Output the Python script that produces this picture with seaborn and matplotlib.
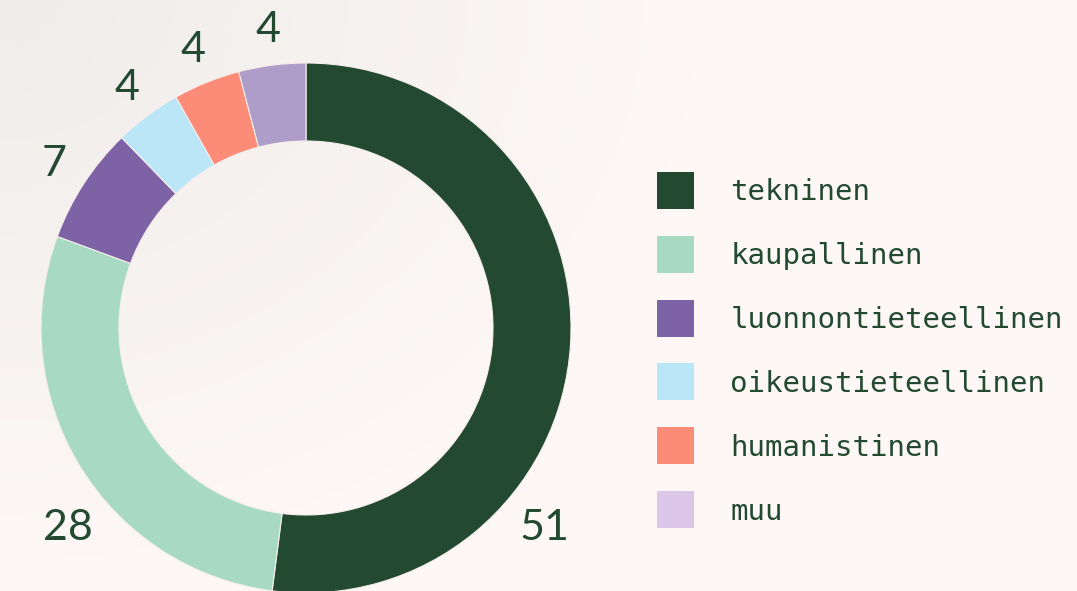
import numpy as np
import matplotlib
matplotlib.use("Agg")
import matplotlib.pyplot as plt
import seaborn as sns
from matplotlib.patches import Patch

# data
categories = ["tekninen", "kaupallinen", "luonnontieteellinen",
              "oikeustieteellinen", "humanistinen", "muu"]
values = [51, 28, 7, 4, 4, 4]
slice_colors = ["#234a31", "#a8d9c3", "#7d62a6", "#bae6f8", "#fc8c78", "#ae9cc9"]
legend_colors = ["#234a31", "#a8d9c3", "#7d62a6", "#bae6f8", "#fc8c78", "#dbc6e8"]

text_color = "#234a31"

sns.set_theme(style="white")
plt.rcParams['font.family'] = ['Lato', 'DejaVu Sans']

fig = plt.figure(figsize=(10.77, 5.91), dpi=100)
W, H = 1077, 591

# soft background gradient (grey in top-left, warm white elsewhere)
bg = fig.add_axes([0, 0, 1, 1])
yy, xx = np.mgrid[0:H, 0:W]
d = np.sqrt((xx / 700.0) ** 2 + (yy / 560.0) ** 2)
t = np.clip(d, 0, 1)[..., None]
c0 = np.array([0xef, 0xec, 0xea]) / 255
c1 = np.array([0xfd, 0xf8, 0xf5]) / 255
img = c0 * (1 - t) + c1 * t
bg.imshow(img, aspect="auto", extent=[0, 1, 0, 1])
bg.axis("off")

# donut
cx, cy, R = 306, 328, 265
ax = fig.add_axes([(cx - R) / W, (H - cy - R) / H, 2 * R / W, 2 * R / H])
ax.set_facecolor("none")
wedges, _ = ax.pie(values, colors=slice_colors, startangle=90, counterclock=False,
                   radius=1, wedgeprops=dict(width=78 / R, edgecolor="#f6efec", linewidth=0.8))
ax.set_xlim(-1, 1)
ax.set_ylim(-1, 1)
ax.set_aspect("equal")
ax.axis("off")

# value labels: small slices at their mid angle, big ones pushed low
for i, (w, v) in enumerate(zip(wedges, values)):
    mid = np.deg2rad((w.theta1 + w.theta2) / 2)
    r = 300 / R
    if v >= 20:
        mid = np.deg2rad(-40 if i == 0 else 220)
        r = 311 / R
    ax.text(r * np.cos(mid), r * np.sin(mid), str(v), ha="center", va="center",
            fontsize=31, color=text_color, family=['Lato', 'DejaVu Sans'])

handles = [Patch(facecolor=c, edgecolor="none") for c in legend_colors]
fig.legend(handles, categories, loc="center left", bbox_to_anchor=(657 / W, 1 - 350 / H),
           frameon=False, borderpad=0, borderaxespad=0,
           prop=dict(family=['DejaVu Sans Mono'], size=21),
           labelcolor=text_color, handlelength=1.27, handleheight=1.575,
           handletextpad=1.24, labelspacing=0.925)

fig.savefig("out.png", dpi=100)
